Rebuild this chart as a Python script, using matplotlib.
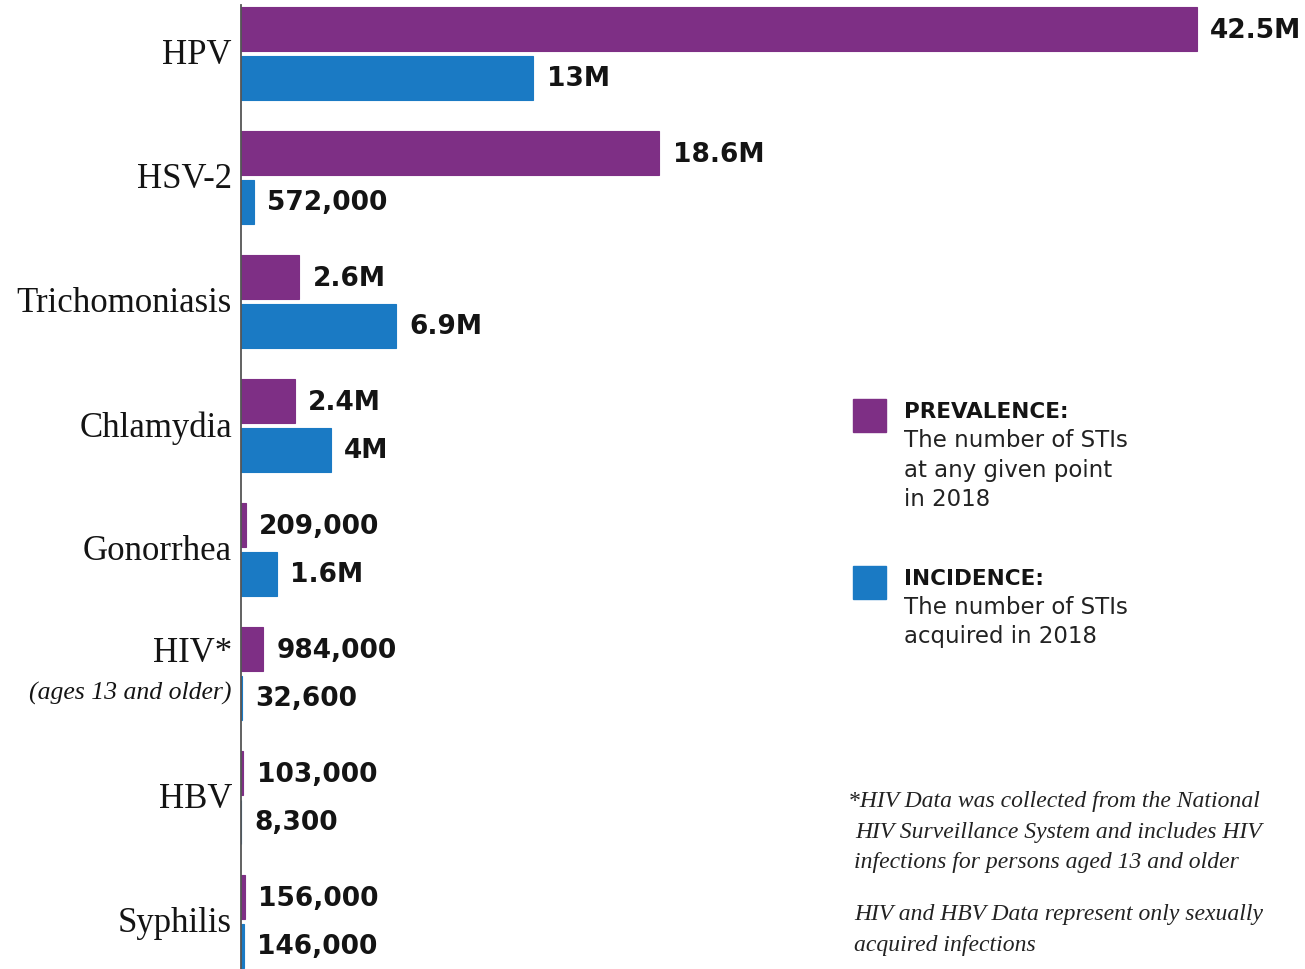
import numpy as np
import matplotlib
matplotlib.use('Agg')
from matplotlib import pyplot as plt
from matplotlib.patches import Rectangle
import matplotlib.transforms as mtransforms

# STI estimates for 2018, in millions
categories = ['HPV', 'HSV-2', 'Trichomoniasis', 'Chlamydia', 'Gonorrhea', 'HIV*', 'HBV', 'Syphilis']
prevalence = [42.5, 18.6, 2.6, 2.4, 0.209, 0.984, 0.103, 0.156]
incidence = [13, 0.572, 6.9, 4, 1.6, 0.0326, 0.0083, 0.146]
prev_labels = ['42.5M', '18.6M', '2.6M', '2.4M', '209,000', '984,000', '103,000', '156,000']
inc_labels = ['13M', '572,000', '6.9M', '4M', '1.6M', '32,600', '8,300', '146,000']

purple = '#7E2F85'
blue = '#1A7AC4'
ink = '#141414'

W, H = 1305, 969
fig = plt.figure(figsize=(W / 100, H / 100), dpi=100)
fig.patch.set_facecolor('white')

ax = fig.add_axes([241 / W, 0, 1 - 241 / W, 964 / H])
ax.set_xlim(0, 42.5 * 1064 / 956)
ax.set_ylim(7.383, -0.391)

y = np.arange(len(categories))
off = 0.198
h = 0.355
ax.barh(y - off, prevalence, height=h, color=purple, edgecolor=purple, linewidth=0.8)
ax.barh(y + off, incidence, height=h, color=blue, edgecolor=blue, linewidth=0.8)

for i in range(len(categories)):
    ax.annotate(prev_labels[i], (prevalence[i], y[i] - off), xytext=(9.5, -1.5),
                textcoords='offset points', va='center', ha='left',
                fontsize=19, fontweight='bold', color=ink, family='DejaVu Sans')
    ax.annotate(inc_labels[i], (incidence[i], y[i] + off), xytext=(9.5, -1),
                textcoords='offset points', va='center', ha='left',
                fontsize=19, fontweight='bold', color=ink, family='DejaVu Sans')

# category names on the left of the axis
trans = mtransforms.blended_transform_factory(ax.transAxes, ax.transData)
for i, name in enumerate(categories):
    yy = y[i] + 0.02
    if name == 'HIV*':
        yy = y[i] - 0.16
    ax.text(-0.0085, yy, name, transform=trans, ha='right', va='center',
            fontsize=25, family='Liberation Serif', color=ink)
ax.text(-0.0085, 5 + 0.16, '(ages 13 and older)', transform=trans, ha='right',
        va='center', fontsize=18.5, family='Liberation Serif', style='italic', color=ink)

ax.set_xticks([])
ax.set_yticks([])
for s in ['top', 'right', 'bottom']:
    ax.spines[s].set_visible(False)
ax.spines['left'].set_color('#555555')
ax.spines['left'].set_linewidth(1.3)


def fy(px):
    return 1 - px / H


# legend
fig.patches.append(Rectangle((853 / W, fy(432)), 33 / W, 33 / H, color=purple,
                             transform=fig.transFigure, figure=fig))
fig.patches.append(Rectangle((853 / W, fy(599)), 33 / W, 33 / H, color=blue,
                             transform=fig.transFigure, figure=fig))

fig.text(904 / W, fy(418), 'PREVALENCE:', fontsize=15.5, fontweight='bold',
         color=ink, family='DejaVu Sans', va='baseline')
for txt, b in zip(['The number of STIs', 'at any given point', 'in 2018'], [447, 477, 506]):
    fig.text(904 / W, fy(b), txt, fontsize=16.5, color='#222222',
             family='DejaVu Sans', va='baseline')

fig.text(904 / W, fy(585), 'INCIDENCE:', fontsize=15.5, fontweight='bold',
         color=ink, family='DejaVu Sans', va='baseline')
for txt, b in zip(['The number of STIs', 'acquired in 2018'], [614, 643]):
    fig.text(904 / W, fy(b), txt, fontsize=16.5, color='#222222',
             family='DejaVu Sans', va='baseline')

# footnotes
notes = [
    ('*HIV Data was collected from the National', 848, 807),
    ('HIV Surveillance System and includes HIV', 855, 838),
    ('infections for persons aged 13 and older', 854, 868),
    ('HIV and HBV Data represent only sexually', 854, 920),
    ('acquired infections', 854, 951),
]
for txt, x, b in notes:
    fig.text(x / W, fy(b), txt, fontsize=17, style='italic', color='#222222',
             family='Liberation Serif', va='baseline')

fig.savefig('out.png', dpi=100, facecolor='white')
